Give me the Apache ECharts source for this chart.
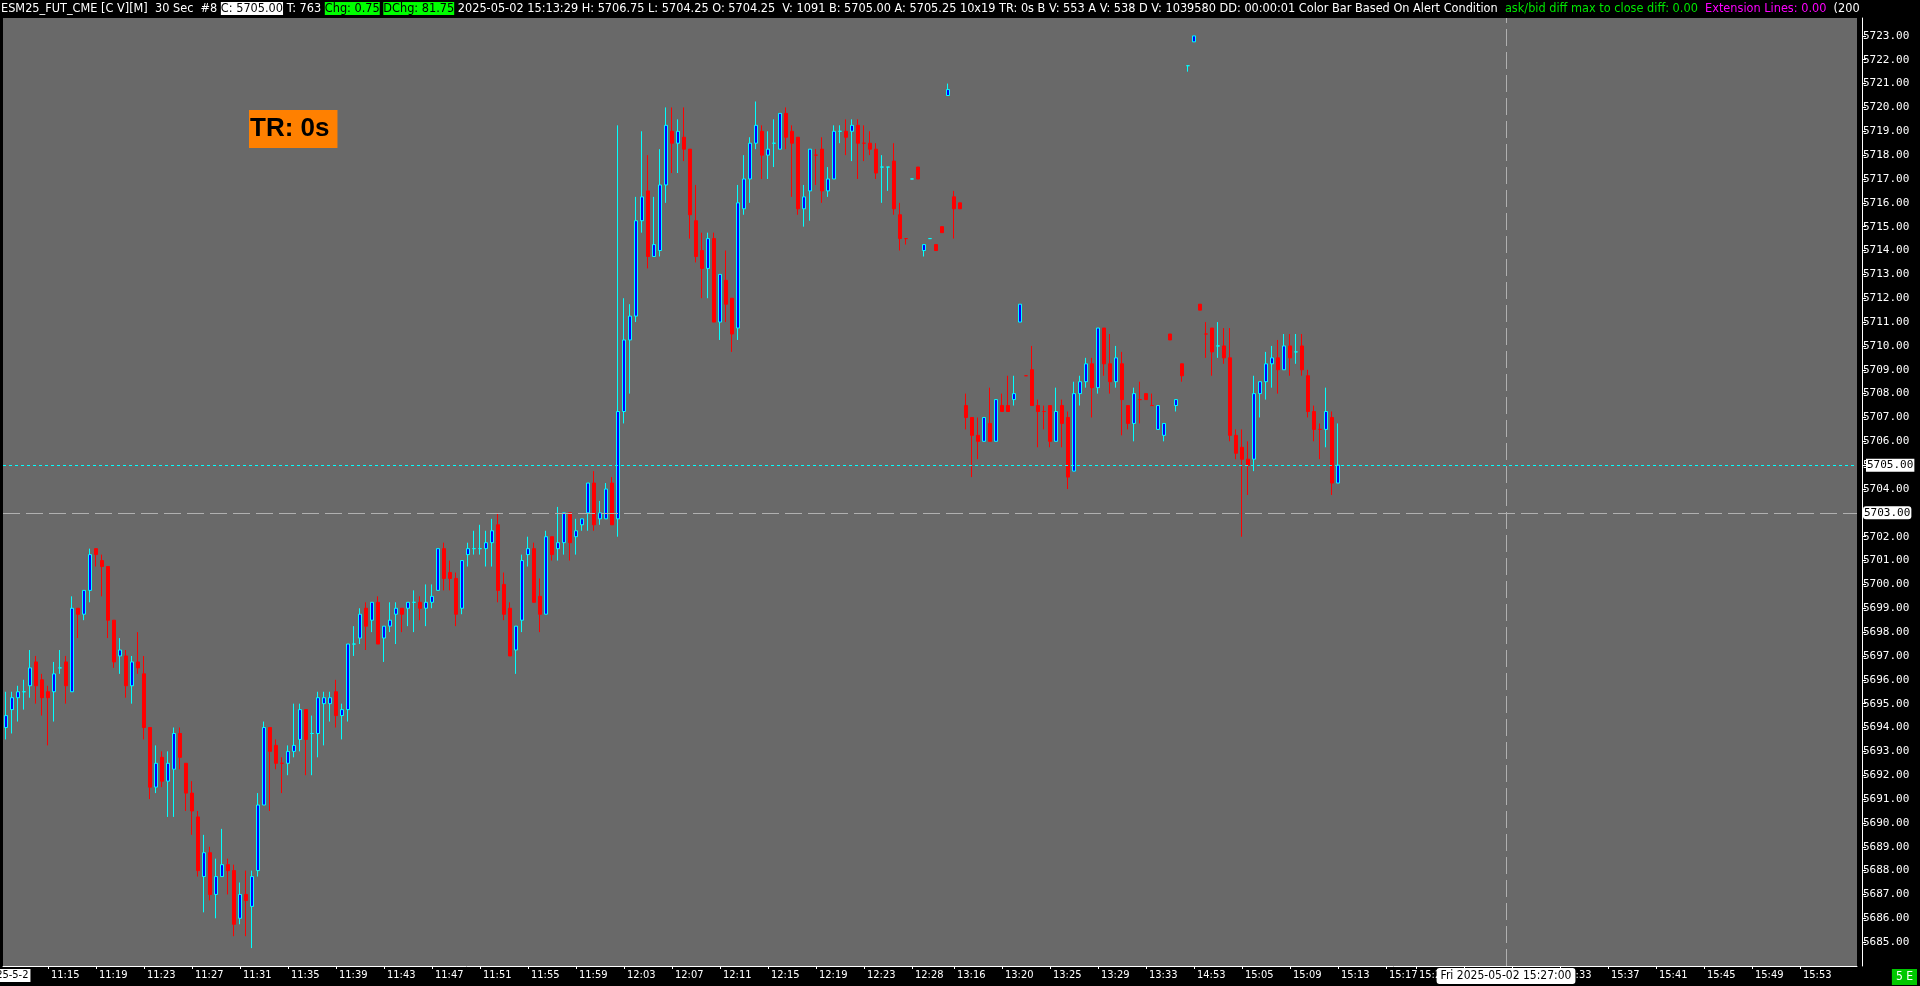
<!DOCTYPE html>
<html><head><meta charset="utf-8">
<script src="https://cdn.jsdelivr.net/npm/echarts@6/dist/echarts.min.js"></script>
<style>html,body{margin:0;padding:0;background:#000;overflow:hidden}#c{width:1920px;height:986px;}</style>
</head><body><div id="c"></div>
<script>
// ---- data (30 sec bars, ESM25) ----
const opens = [5694.0,5694.75,5695.25,5695.5,5695.75,5696.75,5696.0,5695.5,5695.5,5696.5,5696.75,5695.5,5699.0,5698.75,5699.75,5701.5,5701.0,5700.75,5698.5,5697.0,5697.0,5695.75,5696.75,5696.25,5694.0,5691.5,5692.75,5691.75,5692.25,5693.75,5692.5,5691.25,5690.25,5687.75,5688.75,5687.0,5687.75,5688.25,5688.0,5686.0,5687.0,5686.5,5688.0,5690.75,5694.0,5693.25,5692.5,5692.5,5693.0,5693.5,5694.75,5693.75,5693.75,5695.0,5695.0,5695.5,5694.5,5694.75,5697.5,5697.75,5699.0,5698.5,5699.25,5697.75,5698.25,5698.75,5699.0,5699.0,5699.25,5699.25,5699.0,5699.25,5699.75,5701.5,5700.5,5700.25,5699.0,5701.25,5701.5,5701.5,5701.5,5701.75,5702.5,5700.0,5699.0,5697.25,5698.5,5701.25,5701.5,5699.5,5698.75,5702.0,5701.5,5701.75,5703.0,5702.0,5702.5,5703.0,5704.25,5702.75,5702.75,5704.25,5702.75,5707.25,5710.25,5711.25,5715.25,5716.5,5713.75,5714.0,5716.75,5719.0,5718.5,5718.75,5718.25,5715.25,5714.0,5713.25,5714.5,5711.0,5712.75,5712.0,5710.75,5715.75,5717.0,5718.5,5719.0,5718.0,5718.5,5718.25,5719.75,5719.0,5718.75,5715.75,5716.5,5718.0,5718.25,5716.5,5717.0,5719.0,5719.0,5719.0,5719.25,5718.5,5718.5,5718.25,5717.5,5717.5,5717.75,5715.5,5714.5,5717.0,5717.5,5714.0,5714.5,5714.25,5715.0,5720.5,5716.25,5716.0,5707.5,5707.0,5706.25,5706.0,5706.75,5706.0,5707.5,5707.5,5707.75,5711.0,5708.75,5709.0,5707.5,5707.25,5707.5,5706.0,5707.5,5707.0,5704.75,5708.0,5708.5,5709.25,5708.25,5710.75,5709.25,5708.5,5709.25,5707.5,5706.75,5707.75,5708.0,5707.5,5706.5,5706.25,5710.5,5707.5,5709.25,5721.75,5722.75,5711.75,5710.5,5710.75,5710.0,5710.0,5709.5,5706.25,5705.75,5705.25,5705.25,5708.0,5708.5,5709.25,5709.5,5709.0,5710.0,5709.75,5710.0,5708.75,5707.25,5706.5,5706.5,5707.0,5704.25];
const highs = [5695.5,5695.5,5695.75,5696.0,5697.25,5697.0,5696.25,5695.75,5696.75,5697.25,5697.0,5699.5,5699.0,5699.75,5701.5,5701.5,5701.25,5700.75,5698.5,5697.75,5697.25,5697.0,5698.0,5697.0,5694.0,5693.25,5693.0,5693.0,5694.0,5694.0,5692.5,5691.75,5690.5,5689.5,5689.0,5688.5,5689.75,5688.5,5688.25,5687.5,5688.0,5688.0,5691.25,5694.25,5694.0,5693.5,5692.75,5693.25,5695.0,5695.0,5694.75,5694.5,5695.5,5695.5,5695.5,5696.0,5695.0,5697.5,5698.25,5699.0,5699.25,5699.25,5699.5,5698.25,5699.25,5699.25,5699.0,5699.25,5699.75,5699.5,5700.0,5700.0,5701.5,5701.75,5701.0,5700.5,5701.0,5701.75,5702.25,5702.5,5702.25,5702.75,5703.0,5700.5,5699.25,5698.25,5701.25,5702.0,5701.75,5700.25,5702.25,5702.0,5703.25,5703.0,5703.0,5702.75,5702.75,5704.25,5704.75,5703.5,5704.25,5704.5,5719.25,5712.0,5711.75,5716.25,5719.0,5718.0,5716.25,5718.25,5720.0,5720.0,5719.5,5720.0,5718.25,5716.75,5714.75,5714.75,5714.75,5713.0,5714.0,5712.0,5716.75,5718.0,5718.75,5720.25,5719.25,5719.0,5719.5,5719.75,5720.0,5719.25,5718.75,5716.75,5718.25,5718.25,5718.75,5717.5,5719.25,5719.25,5719.5,5719.5,5719.5,5719.25,5719.0,5718.5,5718.0,5717.5,5718.5,5716.0,5714.5,5717.0,5717.5,5714.25,5714.5,5714.25,5715.0,5721.0,5716.5,5716.0,5708.0,5707.0,5707.0,5707.0,5708.25,5707.75,5708.0,5708.75,5708.75,5711.75,5708.75,5710.0,5707.75,5707.5,5707.5,5708.25,5707.75,5707.25,5708.5,5708.75,5709.5,5709.5,5710.75,5710.75,5710.5,5710.0,5709.75,5707.5,5708.25,5708.5,5708.0,5708.0,5707.5,5706.75,5710.5,5707.75,5709.25,5721.75,5723.0,5711.75,5711.0,5710.75,5711.0,5710.75,5710.75,5706.5,5706.5,5706.0,5708.75,5708.5,5709.75,5710.0,5710.25,5710.5,5710.5,5710.5,5710.5,5709.0,5707.5,5706.75,5708.25,5707.25,5706.75];
const lows = [5693.5,5693.75,5694.25,5694.75,5695.25,5695.0,5694.5,5693.25,5694.25,5696.25,5695.0,5695.5,5697.75,5698.5,5699.25,5700.75,5699.5,5697.75,5696.5,5696.25,5695.25,5695.0,5696.25,5693.5,5691.0,5691.25,5691.5,5690.25,5690.25,5692.25,5690.5,5689.5,5687.75,5686.25,5686.75,5686.0,5687.75,5687.0,5685.25,5685.75,5685.25,5684.75,5687.75,5690.75,5690.5,5692.25,5691.25,5692.0,5692.75,5693.0,5692.0,5692.0,5692.75,5693.25,5694.25,5694.0,5693.5,5694.25,5697.0,5697.5,5697.25,5698.0,5697.5,5696.75,5698.0,5697.5,5698.0,5698.25,5698.0,5698.5,5698.25,5699.0,5699.75,5699.75,5699.75,5698.25,5698.75,5700.75,5701.25,5701.25,5700.75,5700.75,5699.25,5698.5,5697.0,5696.25,5698.0,5700.75,5699.25,5698.0,5698.75,5701.0,5701.0,5701.25,5701.0,5701.25,5702.25,5702.25,5702.25,5702.5,5702.75,5702.5,5702.0,5706.75,5708.0,5711.0,5714.75,5713.25,5713.75,5713.75,5716.0,5717.25,5717.25,5717.75,5714.5,5713.5,5712.0,5712.0,5711.0,5710.25,5711.0,5709.75,5710.25,5715.5,5716.0,5718.25,5717.0,5717.0,5717.5,5718.25,5718.25,5716.25,5715.5,5715.0,5715.25,5716.75,5716.0,5716.25,5717.0,5718.5,5718.0,5717.75,5717.0,5717.75,5718.0,5717.0,5716.0,5716.5,5715.5,5714.0,5714.25,5717.0,5717.0,5713.75,5714.5,5714.0,5714.75,5720.5,5714.5,5715.75,5706.5,5704.5,5705.25,5706.0,5706.0,5706.0,5707.25,5707.25,5707.5,5711.0,5708.75,5707.5,5705.75,5706.5,5705.75,5706.0,5705.75,5704.0,5704.75,5707.5,5708.25,5707.0,5708.0,5708.75,5708.0,5708.25,5706.25,5706.5,5706.0,5706.75,5707.75,5707.5,5706.5,5706.0,5710.25,5707.25,5708.5,5721.5,5722.75,5711.5,5709.5,5708.75,5709.5,5709.25,5706.0,5705.25,5702.0,5703.75,5704.75,5707.0,5707.75,5708.25,5708.0,5709.0,5708.75,5709.25,5708.75,5707.0,5706.0,5705.25,5705.75,5703.75,5704.25];
const closes = [5694.5,5695.25,5695.5,5695.5,5696.5,5695.75,5695.25,5695.25,5696.25,5696.5,5695.75,5699.0,5698.75,5699.75,5701.25,5701.25,5700.75,5698.5,5696.75,5697.25,5695.75,5696.75,5696.5,5694.0,5691.5,5692.5,5691.75,5692.5,5693.75,5692.75,5691.25,5690.5,5688.0,5688.75,5687.0,5687.75,5688.25,5688.0,5685.75,5687.0,5686.75,5687.75,5690.75,5694.0,5693.0,5692.5,5692.5,5693.0,5693.25,5694.75,5693.5,5693.75,5695.25,5695.25,5695.25,5694.5,5694.75,5697.5,5697.5,5698.75,5698.25,5699.25,5697.5,5698.25,5698.5,5699.0,5698.75,5699.25,5699.25,5699.0,5699.25,5699.5,5701.5,5700.25,5700.25,5698.75,5701.0,5701.5,5701.5,5701.5,5701.75,5702.25,5699.75,5698.75,5697.0,5698.25,5701.0,5701.5,5699.25,5698.75,5702.0,5701.25,5701.75,5703.0,5701.75,5702.25,5702.75,5704.25,5702.5,5703.0,5704.0,5702.5,5707.25,5710.25,5711.25,5715.25,5716.25,5713.75,5714.25,5716.75,5719.25,5718.5,5719.0,5718.25,5715.5,5713.75,5713.25,5714.5,5711.0,5713.0,5711.75,5710.5,5716.0,5717.0,5718.5,5719.25,5718.0,5718.25,5718.5,5719.75,5718.75,5718.5,5715.75,5716.25,5718.25,5718.0,5716.5,5717.0,5719.0,5719.0,5718.75,5719.25,5718.5,5718.5,5718.25,5717.25,5717.5,5717.5,5715.75,5714.5,5714.5,5717.0,5717.0,5714.25,5714.5,5714.0,5714.75,5720.75,5715.75,5715.75,5707.0,5706.25,5706.0,5707.0,5706.0,5707.75,5707.25,5707.25,5708.0,5711.75,5708.75,5707.5,5707.25,5707.25,5706.0,5707.25,5706.75,5704.5,5708.0,5708.5,5709.25,5708.25,5710.75,5709.25,5708.5,5709.5,5707.75,5706.75,5708.0,5707.75,5707.75,5707.5,5707.5,5706.75,5710.25,5707.75,5708.75,5721.75,5723.0,5711.5,5710.5,5709.75,5710.0,5709.5,5706.25,5705.5,5705.25,5705.0,5708.0,5708.5,5709.25,5709.5,5709.0,5710.0,5709.5,5709.75,5709.0,5707.25,5706.5,5706.5,5707.25,5704.25,5705.0];

const totalSlots = 309;            // data bars + empty future bars
const dateTick = { index: 0, text: '2025-5-2' };
const tickIndex = [7,15,23,31,39,47,55,63,71,79,87,95,103,111,119,127,135,143,151,158,166,174,182,190,198,206,214,222,230,235,243,251,259,267,275,283,291,299];
const tickText  = ['11:15','11:19','11:23','11:27','11:31','11:35','11:39','11:43','11:47','11:51','11:55','11:59','12:03','12:07','12:11','12:15','12:19','12:23','12:28','13:16','13:20','13:25','13:29','13:33','14:53','15:05','15:09','15:13','15:17','15:21','15:25','15:29','15:33','15:37','15:41','15:45','15:49','15:53'];
const lastPrice = 5705.00;
const crossPrice = 5703.00;
const crossIndex = 250;
const crossLabel = 'Fri 2025-05-02 15:27:00';

// ---- build ----
const UP_FILL = '#0000ff', UP_LINE = '#00ffff', DN = '#ff0000';
const cats = [];
for (let i = 0; i < totalSlots; i++) cats.push(String(i));
const tickMap = {};
tickIndex.forEach((ix, k) => { tickMap[ix] = tickText[k]; });

const candles = [];
let prevDir = 1;
for (let i = 0; i < opens.length; i++) {
  const o = opens[i], c = closes[i];
  let dir;
  if (c > o) dir = 1; else if (c < o) dir = -1;
  else { const pc = i > 0 ? closes[i - 1] : c; dir = c > pc ? 1 : (c < pc ? -1 : prevDir); }
  prevDir = dir;
  const item = { value: [o, c, lows[i], highs[i]] };
  if (c === o) {
    const col = dir > 0 ? UP_LINE : DN;
    item.itemStyle = { color: dir > 0 ? UP_FILL : DN, color0: dir > 0 ? UP_FILL : DN, borderColor: col, borderColor0: col, borderColorDoji: col };
  }
  candles.push(item);
}

const cond = "'DejaVu Sans Condensed','DejaVu Sans',sans-serif";
const chart = echarts.init(document.getElementById('c'), null, { renderer: 'canvas' });
const header = '{w|ESM25_FUT_CME [C V][M]  30 Sec  #8 }{k|C: 5705.00}{w| T: 763 }{g|Chg: 0.75}{w| }{g|DChg: 81.75}' +
  '{w| 2025-05-02 15:13:29 H: 5706.75 L: 5704.25 O: 5704.25  V: 1091 B: 5705.00 A: 5705.25 10x19 TR: 0s B V: 553 A V: 538 D V: 1039580 DD: 00:00:01 Color Bar Based On Alert Condition  }' +
  '{gt|ask/bid diff max to close diff: 0.00  }{m|Extension Lines: 0.00  }{w|(200}';
const hs = { fontFamily: cond, fontSize: 12.6, lineHeight: 17, fontWeight: 'normal' };
chart.setOption({
  animation: false,
  backgroundColor: '#000',
  title: [
    { left: 1, top: 0, padding: 0, text: header,
      textStyle: Object.assign({
        rich: {
          w: Object.assign({ color: '#fff' }, hs),
          k: Object.assign({ color: '#000', backgroundColor: '#fff' }, hs),
          g: Object.assign({ color: '#000', backgroundColor: '#00ff00' }, hs),
          gt: Object.assign({ color: '#00e600' }, hs),
          m: Object.assign({ color: '#ff00ff' }, hs)
        } }, hs) },
    { left: 249, top: 110, text: 'TR: 0s', backgroundColor: '#ff8000', padding: [4, 8, 4, 1],
      textStyle: { color: '#000', fontSize: 26, lineHeight: 30, fontWeight: 'bold', fontFamily: 'Liberation Sans' } },
    { right: 3, bottom: 1, text: '5 E', backgroundColor: '#00c800', padding: [1, 4, 1, 4],
      textStyle: { color: '#fff', fontSize: 12, lineHeight: 14, fontWeight: 'normal', fontFamily: cond } }
  ],
  grid: { left: 3, top: 18, width: 1854, height: 948, show: true, backgroundColor: '#696969', borderWidth: 0,
    containLabel: false, outerBoundsMode: 'none' },
  xAxis: [{
    type: 'category', data: cats, boundaryGap: true, position: 'bottom',
    axisLine: { show: true, lineStyle: { color: '#ffffff', width: 1 } },
    axisTick: { show: true, alignWithLabel: true, length: 3, interval: (i) => tickMap[i] !== undefined, lineStyle: { color: '#ffffff' } },
    axisLabel: { show: true, interval: (i) => tickMap[i] !== undefined, formatter: (v, i) => tickMap[i] || '',
      align: 'left', padding: [0, 0, 0, 3], color: '#ffffff', fontFamily: cond, fontSize: 11, margin: 4 },
    splitLine: { show: false },
    axisPointer: { show: true, type: 'line', value: crossIndex, status: 'show', snap: false, triggerTooltip: false,
      lineStyle: { color: '#b0b0b0', width: 1, type: [17, 6] },
      label: { show: true, formatter: () => crossLabel, backgroundColor: '#ffffff', color: '#000', fontFamily: cond, fontSize: 12, padding: [2, 4], margin: 2, borderWidth: 0, shadowBlur: 0 } }
  }, {
    type: 'category', data: cats, boundaryGap: true, position: 'bottom', gridIndex: 0,
    axisLine: { show: false }, axisTick: { show: false }, splitLine: { show: false },
    axisLabel: { show: true, interval: (i) => i === dateTick.index, formatter: () => dateTick.text, align: 'center',
      color: '#000', backgroundColor: '#ffffff', padding: [1, 2], fontFamily: cond, fontSize: 11, margin: 3 }
  }],
  yAxis: {
    type: 'value', position: 'right', offset: 5, min: 5684, max: 5723.75, interval: 1, scale: true,
    axisLine: { show: true, lineStyle: { color: '#ffffff', width: 1 } },
    axisTick: { show: true, length: 4, lineStyle: { color: '#ffffff' } },
    axisLabel: { color: '#ffffff', fontFamily: 'DejaVu Sans Mono', fontSize: 11, margin: 1, showMaxLabel: false, showMinLabel: false,
      formatter: (v) => v.toFixed(2) },
    splitLine: { show: false },
    axisPointer: { show: true, type: 'line', value: crossPrice, status: 'show', snap: false, triggerTooltip: false,
      lineStyle: { color: '#b0b0b0', width: 1, type: [17, 6] },
      label: { show: true, formatter: () => crossPrice.toFixed(2), backgroundColor: '#ffffff', color: '#000', fontFamily: 'DejaVu Sans Mono', fontSize: 11, padding: [1, 1], margin: 1, shadowBlur: 0 } }
  },
  axisPointer: { triggerOn: 'none' },
  series: [{
    type: 'candlestick', data: candles, barWidth: 4, xAxisIndex: 0,
    itemStyle: { color: UP_FILL, color0: DN, borderColor: UP_LINE, borderColor0: DN, borderColorDoji: UP_LINE, borderWidth: 1 },
    markLine: { silent: true, symbol: ['none', 'none'], animation: false,
      data: [{ yAxis: lastPrice }],
      lineStyle: { color: '#00ffff', width: 1, type: [3, 3] },
      label: { show: true, position: 'end', distance: 9, formatter: () => lastPrice.toFixed(2), backgroundColor: '#ffffff', color: '#000', fontFamily: 'DejaVu Sans Mono', fontSize: 11, padding: [1, 1] } }
  }]
});
</script></body></html>
